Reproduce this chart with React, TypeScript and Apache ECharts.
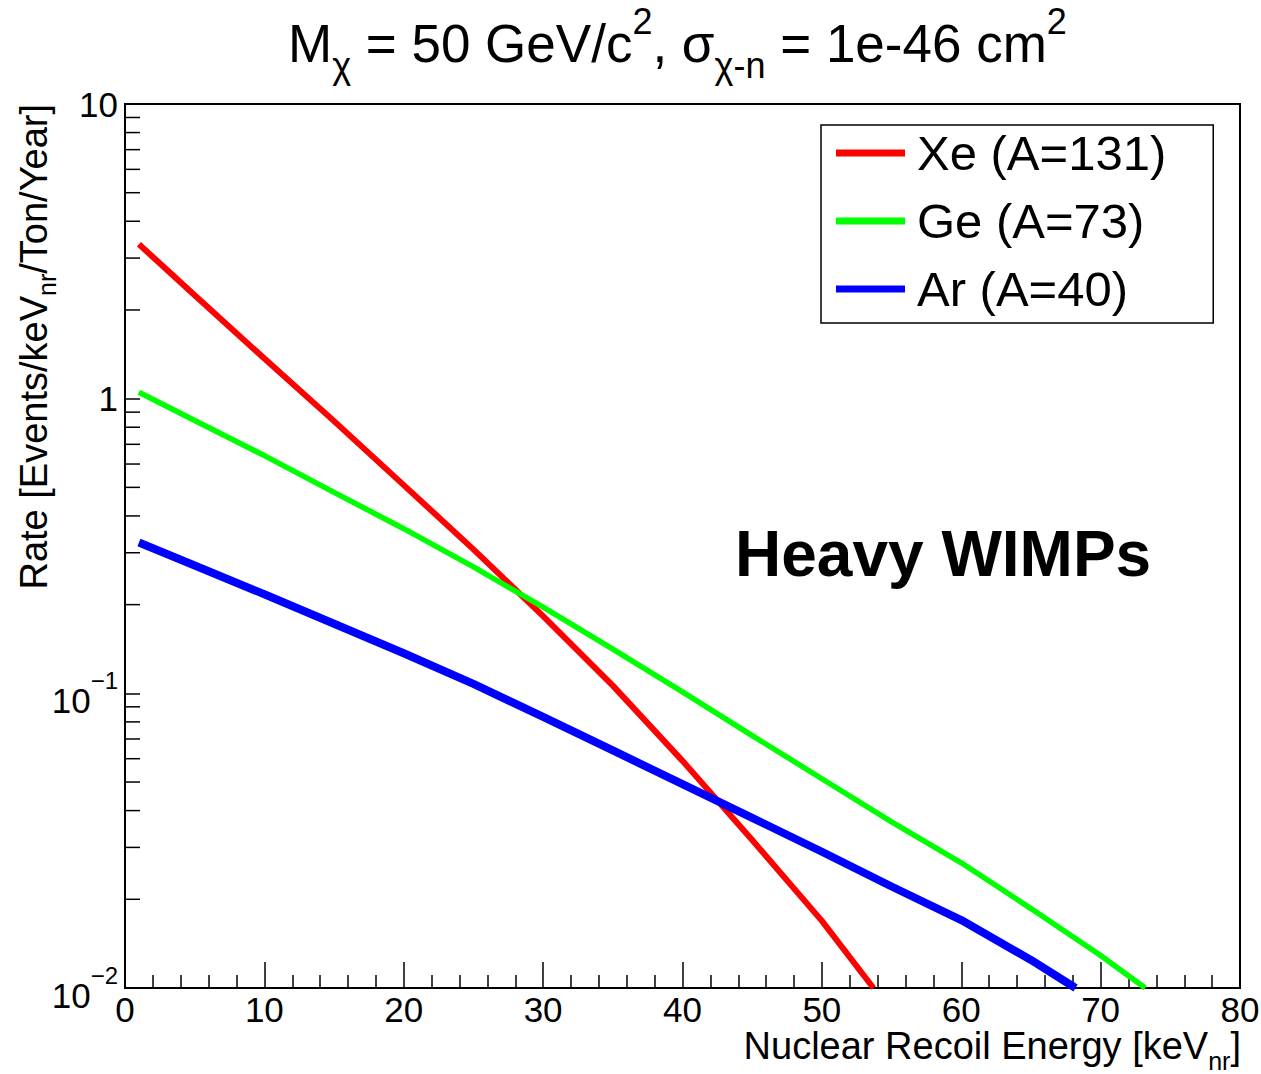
import React, { useEffect, useRef } from "react";
import * as echarts from "echarts";

const FONT = '"Liberation Sans", Arial, Helvetica, sans-serif';

// Recoil energy (keVnr) samples and rates (events/keVnr/ton/year)
const xeEnergy = [1, 5, 10, 15, 20, 25, 30, 35, 40, 45, 50, 53.7];
const xeRate = [3.342, 2.245, 1.368, 0.839, 0.509, 0.308, 0.1828, 0.1062, 0.059, 0.03177, 0.0169, 0.01];

const geEnergy = [1, 5, 10, 15, 20, 25, 30, 35, 40, 45, 50, 55, 60, 65, 70, 73.2];
const geRate = [1.051, 0.843, 0.641, 0.481, 0.362, 0.2685, 0.196, 0.1413, 0.1012, 0.0719, 0.0513, 0.0366, 0.0266, 0.0186, 0.0129, 0.01];

const arEnergy = [1, 5, 10, 15, 20, 25, 30, 35, 40, 45, 50, 55, 60, 65, 68.2];
const arRate = [0.325, 0.2716, 0.2168, 0.1722, 0.1368, 0.1076, 0.0832, 0.064, 0.0492, 0.0378, 0.029, 0.0221, 0.017, 0.01245, 0.01];

const seriesNames = ["Xe (A=131)", "Ge (A=73)", "Ar (A=40)"];
const seriesColors = ["#ff0000", "#00ff00", "#0000ff"];

// minor ticks of the logarithmic y axis
const yMinorTicks = [
  0.02, 0.03, 0.04, 0.05, 0.06, 0.07, 0.08, 0.09,
  0.2, 0.3, 0.4, 0.5, 0.6, 0.7, 0.8, 0.9,
  2, 3, 4, 5, 6, 7, 8, 9,
];

const xTickLabels = ["0", "10", "20", "30", "40", "50", "60", "70", "80"];

function pairs(xs: number[], ys: number[]) {
  return xs.map((x, i) => [x, ys[i]]);
}

export default function App() {
  const ref = useRef<HTMLDivElement>(null);
  useEffect(() => {
    if (!ref.current) return;
    const chart = echarts.init(ref.current, null, { renderer: "svg" });
    const option: any = {
      animation: false,
      backgroundColor: "#ffffff",
      title: {
        left: 288,
        top: 3,
        padding: 0,
        text:
          "{n|M}{sub|χ}{n| = 50 GeV/c}{sup|2}{n|, σ}{sub|χ-n}{n| = 1e-46 cm}{sup|2}",
        textStyle: {
          fontWeight: "normal",
          rich: {
            n: { fontFamily: FONT, fontSize: 53, fontWeight: "normal", color: "#000", lineHeight: 80, verticalAlign: "middle" },
            sub: { fontFamily: FONT, fontSize: 36, fontWeight: "normal", color: "#000", lineHeight: 44, verticalAlign: "bottom" },
            sup: { fontFamily: FONT, fontSize: 36, fontWeight: "normal", color: "#000", lineHeight: 48, verticalAlign: "top" },
          },
        },
      },
      legend: {
        orient: "vertical",
        left: 821,
        top: 125,
        padding: [3, 47, 9, 15],
        itemGap: 18,
        itemWidth: 69,
        itemHeight: 7,
        icon: "rect",
        borderColor: "#000",
        borderWidth: 1.5,
        backgroundColor: "#fff",
        data: seriesNames,
        textStyle: {
          fontFamily: FONT,
          fontSize: 49,
          color: "#000",
          lineHeight: 50,
          padding: [0, 0, 0, 7],
        },
      },
      grid: {
        left: 125,
        right: 21,
        top: 104,
        bottom: 86,
        containLabel: false,
        outerBoundsMode: "none",
        show: true,
        borderColor: "#000",
        borderWidth: 2,
        backgroundColor: "transparent",
      },
      xAxis: {
        type: "value",
        min: 0,
        max: 80,
        interval: 10,
        axisLine: { lineStyle: { color: "#000", width: 2 } },
        axisTick: { inside: true, length: 26, lineStyle: { color: "#000", width: 1.5 } },
        minorTick: { show: true, splitNumber: 5, length: 13, lineStyle: { color: "#000", width: 1.5 } },
        splitLine: { show: false },
        axisLabel: {
          margin: 6,
          fontFamily: FONT,
          fontSize: 35,
          lineHeight: 30,
          color: "#000",
          formatter: (v: number) => xTickLabels[Math.round(v / 10)] ?? "",
        },
      },
      yAxis: {
        type: "log",
        logBase: 10,
        min: 0.01,
        max: 10,
        name: "{n|Rate [Events/keV}{sub|nr}{n|/Ton/Year]}",
        nameLocation: "end",
        nameGap: 0,
        nameRotate: 90,
        nameTextStyle: {
          align: "right",
          verticalAlign: "bottom",
          padding: [0, 0, 66, 0],
          rich: {
            n: { fontFamily: FONT, fontSize: 38, color: "#000", lineHeight: 50, verticalAlign: "middle" },
            sub: { fontFamily: FONT, fontSize: 25, color: "#000", lineHeight: 30, verticalAlign: "bottom" },
          },
        },
        axisLine: { lineStyle: { color: "#000", width: 2 } },
        axisTick: { inside: true, length: 15, lineStyle: { color: "#000", width: 1.5 } },
        splitLine: { show: false },
        axisLabel: {
          margin: 7,
          formatter: (v: number) => {
            const e = Math.round(Math.log10(v));
            if (e === 1) return "{b|10}";
            if (e === 0) return "{b|1}";
            return "{bs|10}{s|−" + String(-e) + "}";
          },
          rich: {
            b: { fontFamily: FONT, fontSize: 35, color: "#000", lineHeight: 50, verticalAlign: "middle" },
            bs: { fontFamily: FONT, fontSize: 35, color: "#000", lineHeight: 50, verticalAlign: "bottom" },
            s: { fontFamily: FONT, fontSize: 24, color: "#000", lineHeight: 26, verticalAlign: "top" },
          },
        },
      },
      graphic: [
        {
          type: "text",
          left: 735,
          top: 522,
          style: {
            text: "Heavy WIMPs",
            fontFamily: FONT,
            fontWeight: "bold",
            fontSize: 64,
            fill: "#000",
          },
        },
        {
          type: "text",
          right: 20,
          top: 1027,
          style: {
            text: "{n|Nuclear Recoil Energy [keV}{sub|nr}{n|]}",
            rich: {
              n: { fontFamily: FONT, fontSize: 38, fill: "#000", lineHeight: 40, verticalAlign: "top" },
              sub: {
                fontFamily: FONT,
                fontSize: 25,
                fill: "#000",
                lineHeight: 46,
                verticalAlign: "top",
                padding: [21, 0, 0, 0],
              },
            },
          },
        },
      ],
      series: [
        {
          name: seriesNames[0],
          type: "line",
          data: pairs(xeEnergy, xeRate),
          showSymbol: false,
          color: seriesColors[0],
          lineStyle: { color: seriesColors[0], width: 6 },
        },
        {
          name: seriesNames[1],
          type: "line",
          data: pairs(geEnergy, geRate),
          showSymbol: false,
          color: seriesColors[1],
          lineStyle: { color: seriesColors[1], width: 5.5 },
        },
        {
          name: seriesNames[2],
          type: "line",
          data: pairs(arEnergy, arRate),
          showSymbol: false,
          color: seriesColors[2],
          lineStyle: { color: seriesColors[2], width: 8 },
        },
        {
          name: "yMinorTicks",
          type: "custom",
          silent: true,
          data: yMinorTicks.map((v) => [0, v]),
          renderItem: (_params: any, api: any) => {
            const p = api.coord([0, api.value(1)]);
            return {
              type: "line",
              shape: { x1: p[0], y1: p[1], x2: p[0] + 15, y2: p[1] },
              style: { stroke: "#000", lineWidth: 1.5 },
            };
          },
        },
      ],
    };
    chart.setOption(option);
    return () => chart.dispose();
  }, []);
  return (
    <div
      ref={ref}
      style={{ position: "absolute", left: 0, top: 0, width: 1261, height: 1074 }}
    />
  );
}
